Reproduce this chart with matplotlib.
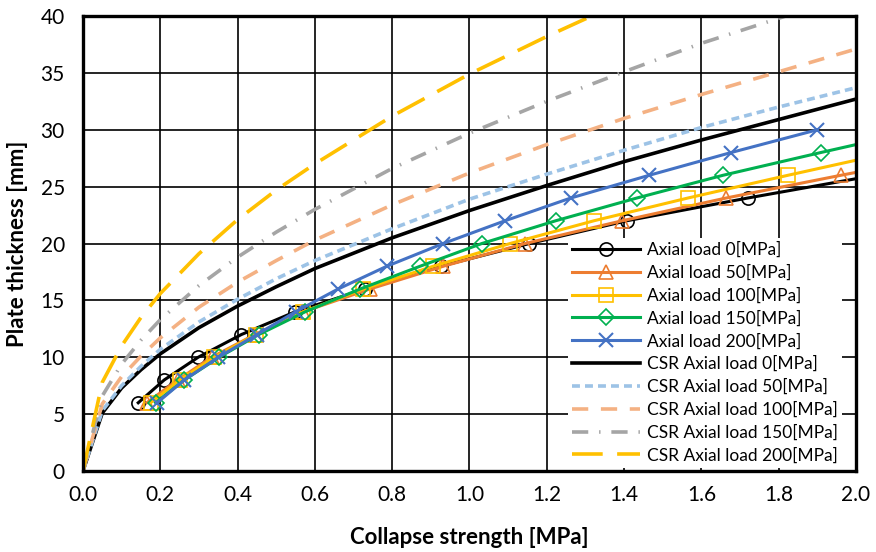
import matplotlib
matplotlib.use("Agg")
import matplotlib.pyplot as plt

plt.rcParams['font.family'] = ['Lato', 'DejaVu Sans']

# Measured collapse strength [MPa] at each plate thickness [mm]
thick_0 = [6, 8, 10, 12, 14, 16, 18, 20, 22, 24, 26]
strength_0 = [0.143, 0.210, 0.298, 0.410, 0.549, 0.730, 0.925, 1.155, 1.407, 1.720, 2.050]

thick_50 = [6, 8, 10, 12, 14, 16, 18, 20, 22, 24, 26, 28]
strength_50 = [0.165, 0.245, 0.333, 0.445, 0.570, 0.742, 0.932, 1.144, 1.395, 1.664, 1.961, 2.270]

thick_100 = [6, 8, 10, 12, 14, 16, 18, 20, 22, 24, 26, 28]
strength_100 = [0.175, 0.250, 0.340, 0.447, 0.570, 0.725, 0.906, 1.105, 1.322, 1.565, 1.824, 2.090]

thick_150 = [6, 8, 10, 12, 14, 16, 18, 20, 22, 24, 26, 28, 30]
strength_150 = [0.188, 0.262, 0.352, 0.455, 0.575, 0.717, 0.872, 1.032, 1.223, 1.433, 1.656, 1.909, 2.170]

thick_200 = [6, 8, 10, 12, 14, 16, 18, 20, 22, 24, 26, 28, 30]
strength_200 = [0.192, 0.262, 0.350, 0.450, 0.550, 0.660, 0.786, 0.932, 1.092, 1.262, 1.465, 1.677, 1.900]

# CSR required thickness [mm] against collapse strength [MPa]
csr_strength = [0.0, 0.05, 0.1, 0.15, 0.2, 0.3, 0.4, 0.5, 0.6, 0.8, 1.0, 1.2, 1.4, 1.6, 1.8, 2.0]
csr_0 = [0.0, 5.1, 7.3, 8.9, 10.3, 12.6, 14.5, 16.2, 17.8, 20.5, 22.9, 25.1, 27.2, 29.1, 30.9, 32.7]
csr_50 = [0.0, 5.3, 7.5, 9.2, 10.7, 13.1, 15.1, 16.9, 18.5, 21.3, 23.9, 26.1, 28.2, 30.2, 32.0, 33.7]
csr_100 = [0.0, 5.9, 8.3, 10.1, 11.7, 14.4, 16.6, 18.5, 20.3, 23.4, 26.2, 28.7, 31.0, 33.1, 35.1, 37.1]
csr_150 = [0.0, 6.6, 9.4, 11.5, 13.3, 16.3, 18.8, 21.0, 23.0, 26.6, 29.7, 32.5, 35.1, 37.6, 39.8, 42.0]
csr_200 = [0.0, 7.8, 11.0, 13.5, 15.6, 19.1, 22.1, 24.7, 27.0, 31.2, 34.9, 38.2, 41.3, 44.1, 46.8, 49.4]

x_ticks = [0.0, 0.2, 0.4, 0.6, 0.8, 1.0, 1.2, 1.4, 1.6, 1.8, 2.0]
y_ticks = [0, 5, 10, 15, 20, 25, 30, 35, 40]

fig = plt.figure(figsize=(8.76, 5.52), dpi=100)
ax = fig.add_axes([0.0947, 0.1467, 0.8825, 0.8243])

lw = 2.2
ms = 9.5
mew = 1.2
ax.plot(strength_0, thick_0, color='black', lw=lw, marker='o', ms=ms, mfc='none', mew=mew,
        label='Axial load 0[MPa]')
ax.plot(strength_50, thick_50, color='#ED7D31', lw=lw, marker='^', ms=ms, mfc='none', mew=mew,
        label='Axial load 50[MPa]')
ax.plot(strength_100, thick_100, color='#FFC000', lw=lw, marker='s', ms=ms, mfc='none', mew=mew,
        label='Axial load 100[MPa]')
ax.plot(strength_150, thick_150, color='#00B050', lw=lw, marker='D', ms=ms - 1, mfc='none', mew=mew,
        label='Axial load 150[MPa]')
ax.plot(strength_200, thick_200, color='#4472C4', lw=lw, marker='x', ms=ms + 1, mew=mew + 0.3,
        label='Axial load 200[MPa]')

clw = 2.6
ax.plot(csr_strength, csr_0, color='black', lw=clw, label='CSR Axial load 0[MPa]')
ax.plot(csr_strength, csr_50, color='#9DC3E6', lw=clw, linestyle=(0, (2.2, 1.4)),
        label='CSR Axial load 50[MPa]')
ax.plot(csr_strength, csr_100, color='#F4B183', lw=clw, linestyle=(0, (4.5, 3.5)),
        label='CSR Axial load 100[MPa]')
ax.plot(csr_strength, csr_150, color='#A5A5A5', lw=clw, linestyle=(0, (4.5, 3.0, 0.4, 3.0)),
        label='CSR Axial load 150[MPa]')
ax.plot(csr_strength, csr_200, color='#FFC000', lw=clw, linestyle=(0, (8.5, 4.0)),
        label='CSR Axial load 200[MPa]')

ax.set_xlim(0, 2.0)
ax.set_ylim(0, 40)
ax.set_xticks(x_ticks)
ax.set_yticks(y_ticks)
ax.xaxis.set_major_formatter(plt.FuncFormatter(lambda v, _: f'{v:.1f}'))
ax.tick_params(length=0, labelsize=15, pad=10)
ax.tick_params(axis='y', pad=13)
ax.grid(True, color='black', linewidth=1.2)
ax.set_axisbelow(True)
for sp in ax.spines.values():
    sp.set_linewidth(2.4)

ax.set_xlabel('Collapse strength [MPa]', fontsize=16, fontweight='bold', labelpad=16)
ax.set_ylabel('Plate thickness [mm]', fontsize=16, fontweight='bold', labelpad=9)

leg = ax.legend(loc='lower right', bbox_to_anchor=(0.993, -0.012), fontsize=12.5, frameon=True,
                fancybox=False, framealpha=1.0, edgecolor='none', handlelength=3.9,
                handletextpad=0.4, labelspacing=0.38, borderpad=0.25)

fig.savefig('out.png', dpi=100)
